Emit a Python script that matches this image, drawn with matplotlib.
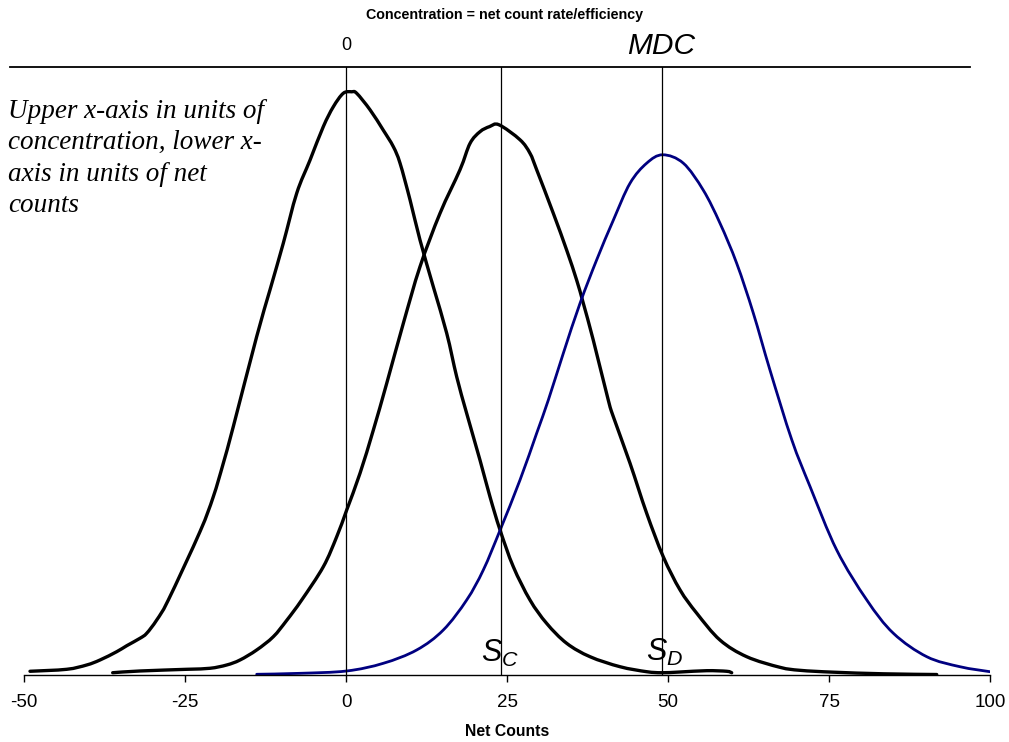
import matplotlib
matplotlib.use("Agg")
import matplotlib.pyplot as plt
import numpy as np
from matplotlib.path import Path
from matplotlib.patches import PathPatch

plt.rcParams['font.family'] = ['Liberation Sans', 'DejaVu Sans']
plt.rcParams['mathtext.fontset'] = 'custom'
plt.rcParams['mathtext.it'] = 'Liberation Sans:italic'
plt.rcParams['mathtext.rm'] = 'Liberation Sans'

# background distribution (centred on 0 net counts)
x_blank = [-49.07, -43.37, -40.26, -38.20, -35.61, -34.05, -31.99, -30.95, -29.39, -27.59,
           -22.67, -20.61, -19.05, -17.50, -13.87, -11.80, -9.74, -7.65, -5.59,
           -3.52, -1.97, -0.42, 0.88, 1.66, 3.73, 5.79, 7.35, 8.39, 9.94,
           11.49, 13.56, 15.64, 17.19, 18.74, 20.81, 22.36, 23.91, 25.98, 28.57,
           31.16, 34.27, 37.89, 42.55, 46.69, 49.02, 51.86, 56.01, 59.11, 59.89]
y_blank = [0.62, 0.95, 1.67, 2.5, 3.88, 4.88, 6.12, 6.95, 9.17, 12.5,
           23.9, 29.7, 35.3, 41.4, 56.4, 64.2, 71.95, 80.3, 85.8,
           91.4, 94.7, 96.95, 97.2, 96.95, 94.2, 90.8, 88.05, 85.3, 79.2,
           72.5, 64.7, 56.95, 49.7, 43.6, 35.8, 29.7, 24.2, 18.05, 12.5,
           8.6, 5.28, 3.05, 1.38, 0.55, 0.38, 0.5, 0.72, 0.62, 0.38]

# distribution centred on the critical level S_C
x_sc = [-36.23, -31.99, -24.74, -21.12, -18.52, -16.46, -13.87, -11.29, -9.21, -6.88,
        -3.52, -1.44, 0.11, 2.17, 4.24, 6.32, 8.90, 11.49, 14.60, 17.70,
        19.26, 20.81, 22.3, 23.76, 27.02, 28.57, 29.61, 32.19, 34.27, 35.82,
        36.85, 38.40, 40.73, 41.51, 44.10, 46.69, 49.27, 51.86, 54.46, 58.07,
        62.22, 67.39, 70.5, 75.67, 83.43, 91.73]
y_sc = [0.38, 0.67, 0.95, 1.12, 1.67, 2.5, 4.17, 6.38, 9.1, 12.5,
        18.05, 23.05, 27.5, 33.6, 40.8, 48.6, 58.6, 68.05, 76.95, 84.2,
        88.6, 90.55, 91.4, 91.7, 89.2, 86.95, 84.2, 76.95, 70.8, 65.8,
        61.95, 55.8, 45.8, 43.05, 35.3, 26.95, 19.7, 14.2, 10.3, 5.83,
        3.05, 1.28, 0.78, 0.47, 0.2, 0.08]

# distribution centred on the detection limit S_D
x_sd = [-13.87, -7.14, 0.11, 5.79, 10.98, 15.11, 18.74, 21.32, 23.91, 27.02,
        29.61, 31.41, 33.74, 36.34, 38.93, 41.51, 44.10, 46.69, 49.18, 52.38,
        55.48, 58.07, 60.67, 63.25, 65.84, 69.22, 72.06, 76.21, 80.87, 85.0,
        90.18, 95.34, 100.0]
y_sd = [0.12, 0.28, 0.67, 1.95, 4.17, 7.5, 12.5, 17.5, 24.1, 32.5,
        40.3, 45.8, 53.6, 61.95, 69.2, 75.8, 81.95, 85.3, 86.7, 85.3,
        80.8, 75.3, 68.6, 60.3, 50.8, 39.2, 31.4, 20.8, 12.5, 6.95,
        3.05, 1.38, 0.55]

xticks = [-50, -25, 0, 25, 50, 75, 100]
levels = [0, 24, 49]
ytop = 101.33


def smooth_path(xs, ys):
    # catmull-rom through the read points, drawn as cubic bezier segments
    p = np.column_stack([xs, ys])
    verts = [p[0]]
    codes = [Path.MOVETO]
    n = len(p)
    for i in range(n - 1):
        p0 = p[i - 1] if i > 0 else p[i]
        p1, p2 = p[i], p[i + 1]
        p3 = p[i + 2] if i + 2 < n else p2
        verts += [p1 + (p2 - p0) / 6, p2 - (p3 - p1) / 6, p2]
        codes += [Path.CURVE4] * 3
    return Path(verts, codes)


fig = plt.figure(figsize=(10.09, 7.42), dpi=100)
ax = fig.add_axes([24 / 1009, 1 - 675 / 742, 966 / 1009, 608 / 742])
ax.set_xlim(-50, 100)
ax.set_ylim(0, ytop)

for lv in levels:
    ax.plot([lv, lv], [0, ytop], color='black', lw=0.9)
ax.plot([-52.2, 96.9], [ytop, ytop], color='black', lw=1.3, clip_on=False)

for xs, ys, col, lw in [(x_blank, y_blank, 'black', 2.4),
                        (x_sc, y_sc, 'black', 2.4),
                        (x_sd, y_sd, '#000080', 2.0)]:
    ax.add_patch(PathPatch(smooth_path(xs, ys), fill=False, edgecolor=col, lw=lw,
                           capstyle='round', joinstyle='round'))

for side in ['left', 'right', 'top']:
    ax.spines[side].set_visible(False)
ax.spines['bottom'].set_linewidth(1.0)
ax.set_yticks([])
ax.set_xticks(xticks)
ax.set_xticklabels([str(t) for t in xticks], fontsize=13.5)
ax.tick_params(axis='x', direction='out', length=5, width=1, pad=9)

ax.text(0, 104.83, '0', ha='center', va='center', fontsize=13)
ax.text(49, 104.83, 'MDC', ha='center', va='center', fontsize=21.5, style='italic')
ax.text(20.9, 2.2, r'$S_C$', ha='left', va='baseline', fontsize=22)
ax.text(46.6, 2.4, r'$S_D$', ha='left', va='baseline', fontsize=22)

fig.text(505 / 1009, 1 - 15 / 742, 'Concentration = net count rate/efficiency',
         ha='center', va='center', fontsize=10.3, fontweight='bold')
fig.text(507 / 1009, 1 - 732 / 742, 'Net Counts', ha='center', va='center',
         fontsize=11.3, fontweight='bold')
fig.text(8 / 1009, 1 - 98.6 / 742,
         'Upper x-axis in units of\nconcentration, lower x-\naxis in units of net\ncounts',
         ha='left', va='top', fontsize=19.5, style='italic', family='Liberation Serif',
         linespacing=1.34)

fig.savefig('out.png', dpi=100)
